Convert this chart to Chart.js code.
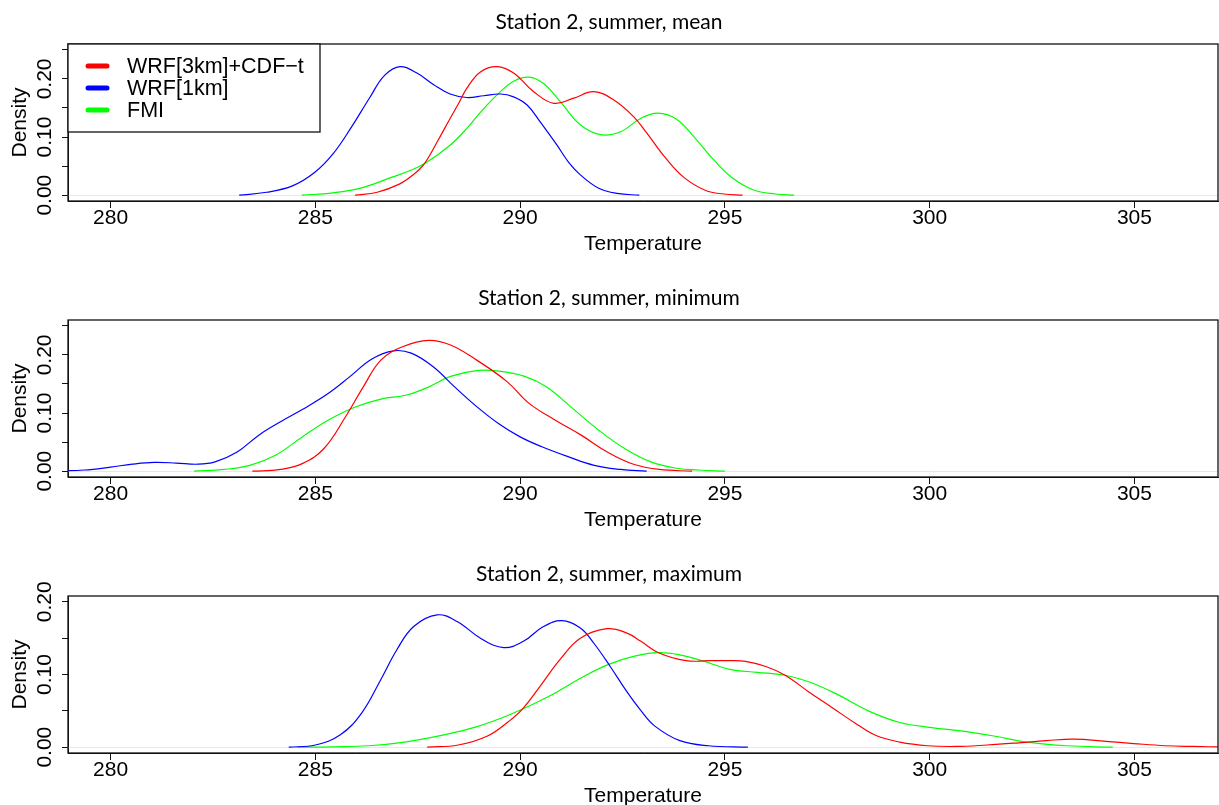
<!DOCTYPE html>
<html>
<head>
<meta charset="utf-8">
<title>Station 2, summer</title>
<script src="https://cdn.jsdelivr.net/npm/chart.js@4.4.1/dist/chart.umd.min.js"></script>
<style>
  html, body { margin: 0; padding: 0; background: #fff; overflow: hidden; }
  #wrap { position: relative; width: 1219px; height: 805px; overflow: hidden; }
  .panel { position: absolute; left: 0; width: 1219px; height: 276px; }
  .panel canvas { display: block; }
</style>
</head>
<body>
<div id="wrap">
  <div class="panel" style="top:0px"><canvas id="panelMean" width="1219" height="276"></canvas></div>
  <div class="panel" style="top:276px"><canvas id="panelMin" width="1219" height="276"></canvas></div>
  <div class="panel" style="top:552px"><canvas id="panelMax" width="1219" height="276"></canvas></div>
</div>
<script>
// ---- Axis ranges and ticks ----
const temperatureRange = [278.96, 307.04];
const temperatureTicks = [280, 285, 290, 295, 300, 305];
const densityRangeWide = [-0.01, 0.26];
const densityRangeNarrow = [-0.008, 0.208];
const densityTicksWide = [0, 0.05, 0.10, 0.15, 0.20, 0.25];
const densityTicksNarrow = [0, 0.05, 0.10, 0.15, 0.20];
const densityTickLabels = ['0.00', '', '0.10', '', '0.20', ''];

// ---- Series names ----
const seriesNames = ['WRF[3km]+CDF\u2212t', 'WRF[1km]', 'FMI'];
const seriesColors = ['#ff0000', '#0000ff', '#00ff00'];

// ---- Panel titles ----
const panelTitles = ['Station 2, summer, mean', 'Station 2, summer, minimum', 'Station 2, summer, maximum'];

// ---- Daily mean temperature densities ----
const meanCdfX = [285.97, 286.51, 287.05, 287.35, 287.65, 288.00, 288.29, 288.50, 288.70, 289.03, 289.44, 289.84, 290.33, 290.82, 291.31, 291.80, 292.28, 292.77, 293.09, 293.54, 293.99, 294.53, 294.98, 295.43];
const meanCdfY = [0, 0.005, 0.019, 0.033, 0.053, 0.095, 0.132, 0.158, 0.184, 0.212, 0.221, 0.210, 0.178, 0.158, 0.167, 0.178, 0.164, 0.135, 0.107, 0.065, 0.031, 0.008, 0.002, 0];
const meanWrf1X = [283.14, 283.81, 284.44, 284.98, 285.43, 285.88, 286.33, 286.69, 287.07, 287.48, 287.89, 288.29, 288.70, 289.11, 289.52, 289.84, 290.17, 290.49, 290.90, 291.19, 291.47, 291.92, 292.37, 292.91];
const meanWrf1Y = [0, 0.005, 0.016, 0.039, 0.071, 0.117, 0.168, 0.206, 0.221, 0.210, 0.190, 0.174, 0.168, 0.171, 0.174, 0.169, 0.155, 0.126, 0.086, 0.056, 0.035, 0.012, 0.003, 0];
const meanFmiX = [284.67, 285.43, 286.15, 286.87, 287.30, 287.68, 288.29, 288.70, 289.11, 289.52, 289.84, 290.21, 290.57, 290.98, 291.47, 291.96, 292.45, 292.94, 293.36, 293.81, 294.26, 294.71, 295.16, 295.70, 296.24, 296.69];
const meanFmiY = [0, 0.004, 0.013, 0.031, 0.042, 0.055, 0.086, 0.115, 0.149, 0.178, 0.196, 0.203, 0.192, 0.161, 0.121, 0.104, 0.109, 0.132, 0.141, 0.131, 0.099, 0.062, 0.031, 0.009, 0.002, 0];

// ---- Daily minimum temperature densities ----
const minCdfX = [283.46, 284.15, 284.68, 285.21, 285.74, 286.17, 286.60, 287.13, 287.77, 288.30, 288.94, 289.68, 290.21, 290.85, 291.49, 292.13, 292.77, 293.40, 294.20];
const minCdfY = [0, 0.003, 0.013, 0.039, 0.094, 0.145, 0.191, 0.214, 0.225, 0.217, 0.191, 0.154, 0.117, 0.088, 0.062, 0.033, 0.012, 0.003, 0];
const minWrf1X = [278.70, 279.36, 280.00, 280.53, 281.06, 281.60, 282.13, 282.55, 283.09, 283.62, 284.15, 284.68, 285.32, 285.85, 286.38, 286.91, 287.34, 287.87, 288.40, 288.94, 289.47, 290.00, 290.53, 291.17, 291.81, 292.45, 293.09];
const minWrf1Y = [0.0005, 0.002, 0.007, 0.012, 0.015, 0.014, 0.012, 0.016, 0.033, 0.062, 0.085, 0.106, 0.134, 0.163, 0.193, 0.207, 0.203, 0.180, 0.145, 0.111, 0.082, 0.059, 0.042, 0.025, 0.010, 0.003, 0];
const minFmiX = [282.04, 282.77, 283.40, 284.04, 284.68, 285.32, 285.96, 286.60, 287.23, 287.77, 288.30, 288.94, 289.47, 290.11, 290.64, 291.28, 291.91, 292.55, 293.19, 293.83, 294.36, 295.00];
const minFmiY = [0, 0.003, 0.010, 0.028, 0.059, 0.088, 0.110, 0.124, 0.131, 0.145, 0.163, 0.173, 0.172, 0.163, 0.145, 0.108, 0.071, 0.039, 0.016, 0.005, 0.002, 0];

// ---- Daily maximum temperature densities ----
const maxCdfX = [287.73, 288.49, 289.19, 289.71, 290.05, 290.49, 290.98, 291.47, 292.12, 292.61, 292.94, 293.38, 294.05, 294.60, 295.12, 295.50, 296.00, 296.47, 297.05, 297.63, 298.21, 298.69, 299.27, 299.95, 300.63, 301.40, 302.18, 302.85, 303.53, 304.30, 304.98, 305.75, 306.43, 307.20];
const maxCdfY = [0, 0.003, 0.015, 0.035, 0.052, 0.084, 0.121, 0.150, 0.163, 0.157, 0.146, 0.130, 0.119, 0.119, 0.119, 0.118, 0.111, 0.099, 0.076, 0.054, 0.032, 0.016, 0.007, 0.002, 0.001, 0.003, 0.006, 0.009, 0.011, 0.008, 0.005, 0.002, 0.001, 0.0003];
const maxWrf1X = [284.35, 285.00, 285.61, 286.13, 286.58, 286.99, 287.40, 287.97, 288.46, 289.03, 289.60, 290.09, 290.57, 291.02, 291.47, 291.80, 292.20, 292.61, 292.94, 293.29, 293.90, 294.60, 295.56];
const maxWrf1Y = [0, 0.003, 0.017, 0.047, 0.091, 0.134, 0.166, 0.182, 0.173, 0.150, 0.137, 0.146, 0.166, 0.174, 0.164, 0.143, 0.111, 0.076, 0.051, 0.029, 0.009, 0.002, 0];
const maxFmiX = [284.56, 285.44, 286.31, 287.18, 288.05, 288.93, 289.80, 290.67, 291.54, 292.16, 292.77, 293.38, 293.90, 294.44, 295.12, 295.79, 296.47, 297.05, 297.73, 298.50, 299.27, 300.05, 300.82, 301.60, 302.37, 303.34, 304.47];
const maxFmiY = [0, 0.0005, 0.002, 0.007, 0.016, 0.028, 0.046, 0.069, 0.097, 0.114, 0.125, 0.130, 0.127, 0.119, 0.107, 0.103, 0.099, 0.090, 0.073, 0.050, 0.034, 0.027, 0.022, 0.015, 0.007, 0.002, 0];

// ---- Shared look ----
const labelFont = { family: 'Liberation Sans, Arial, sans-serif', size: 21 };
const legendFont = { family: 'Liberation Sans, Arial, sans-serif', size: 21.5 };
const titleFont = { family: 'Lato, sans-serif', size: 21, weight: 'normal' };

// Box around the plotting region
const frameBox = {
  id: 'frameBox',
  afterDatasetsDraw(chart) {
    const { ctx, chartArea: a } = chart;
    ctx.save();
    ctx.strokeStyle = '#111';
    ctx.lineWidth = 1.3;
    ctx.strokeRect(a.left, a.top, a.right - a.left, a.bottom - a.top);
    ctx.restore();
  }
};

// Faint baseline at zero density
const zeroLine = {
  id: 'zeroLine',
  beforeDatasetsDraw(chart) {
    const { ctx, chartArea: a, scales } = chart;
    const y0 = Math.round(scales.y.getPixelForValue(0)) + 0.5;
    ctx.save();
    ctx.strokeStyle = '#e8e8e8';
    ctx.lineWidth = 1;
    ctx.beginPath();
    ctx.moveTo(a.left, y0);
    ctx.lineTo(a.right, y0);
    ctx.stroke();
    ctx.restore();
  }
};

// Boxed legend in the top-left corner of the plotting region
const cornerLegend = {
  id: 'cornerLegend',
  afterDatasetsDraw(chart) {
    const { ctx, chartArea: a } = chart;
    const boxW = 252, boxH = 88, rowGap = 22;
    ctx.save();
    ctx.fillStyle = '#fff';
    ctx.fillRect(a.left, a.top, boxW, boxH);
    ctx.strokeStyle = '#111';
    ctx.lineWidth = 1.3;
    ctx.strokeRect(a.left, a.top, boxW, boxH);
    ctx.font = legendFont.size + 'px ' + legendFont.family;
    ctx.textBaseline = 'middle';
    ctx.textAlign = 'left';
    chart.data.datasets.forEach((ds, i) => {
      const y = a.top + rowGap * (i + 1);
      ctx.strokeStyle = ds.borderColor;
      ctx.lineWidth = 5;
      ctx.lineCap = 'round';
      ctx.beginPath();
      ctx.moveTo(a.left + 20, y);
      ctx.lineTo(a.left + 39, y);
      ctx.stroke();
      ctx.fillStyle = '#000';
      ctx.fillText(ds.label, a.left + 59, y + 1);
    });
    ctx.restore();
  }
};

function makeSeries(xs, ys, idx) {
  return {
    label: seriesNames[idx],
    data: xs.map((x, i) => ({ x: x, y: ys[i] })),
    borderColor: seriesColors[idx],
    borderWidth: 1.2,
    pointRadius: 0,
    fill: false,
    tension: 0.4
  };
}

function buildPanel(canvasId, title, datasets, yRange, yTicks, withLegend) {
  const extra = [zeroLine, frameBox];
  if (withLegend) extra.push(cornerLegend);
  return new Chart(document.getElementById(canvasId), {
    type: 'line',
    data: { datasets: datasets },
    options: {
      responsive: false,
      animation: false,
      events: [],
      layout: { padding: { left: 0, right: 1, top: 0, bottom: 0 } },
      plugins: {
        legend: { display: false },
        tooltip: { enabled: false },
        title: {
          display: true,
          text: title,
          color: '#000',
          font: titleFont,
          padding: { top: 9.4, bottom: 9.4 }
        }
      },
      scales: {
        x: {
          type: 'linear',
          min: temperatureRange[0],
          max: temperatureRange[1],
          afterBuildTicks: sc => { sc.ticks = temperatureTicks.map(v => ({ value: v })); },
          afterFit: sc => { sc.height = 75; },
          grid: { drawOnChartArea: false, drawTicks: true, tickLength: 7, color: '#111', lineWidth: 1 },
          border: { display: true, color: '#111', width: 1 },
          ticks: {
            color: '#000', font: labelFont, padding: -2,
            autoSkip: false, minRotation: 0, maxRotation: 0,
            callback: v => String(v)
          },
          title: {
            display: true, text: 'Temperature', color: '#000', font: labelFont,
            padding: { top: 0, bottom: 19 }
          }
        },
        y: {
          type: 'linear',
          min: yRange[0],
          max: yRange[1],
          afterBuildTicks: sc => { sc.ticks = yTicks.map(v => ({ value: v })); },
          afterFit: sc => { sc.width = 68; },
          grid: { drawOnChartArea: false, drawTicks: true, tickLength: 6, color: '#111', lineWidth: 1 },
          border: { display: true, color: '#111', width: 1 },
          ticks: {
            color: '#000', font: labelFont, padding: -4,
            autoSkip: false, minRotation: 90, maxRotation: 90, crossAlign: 'center',
            callback: (v, i) => densityTickLabels[i]
          },
          title: {
            display: true, text: 'Density', color: '#000', font: labelFont,
            padding: { top: 7.4, bottom: 0 }
          }
        }
      }
    },
    plugins: extra
  });
}

buildPanel('panelMean', panelTitles[0], [
  makeSeries(meanCdfX, meanCdfY, 0),
  makeSeries(meanWrf1X, meanWrf1Y, 1),
  makeSeries(meanFmiX, meanFmiY, 2)
], densityRangeWide, densityTicksWide, true);

buildPanel('panelMin', panelTitles[1], [
  makeSeries(minCdfX, minCdfY, 0),
  makeSeries(minWrf1X, minWrf1Y, 1),
  makeSeries(minFmiX, minFmiY, 2)
], densityRangeWide, densityTicksWide, false);

buildPanel('panelMax', panelTitles[2], [
  makeSeries(maxCdfX, maxCdfY, 0),
  makeSeries(maxWrf1X, maxWrf1Y, 1),
  makeSeries(maxFmiX, maxFmiY, 2)
], densityRangeNarrow, densityTicksNarrow, false);
</script>
</body>
</html>
